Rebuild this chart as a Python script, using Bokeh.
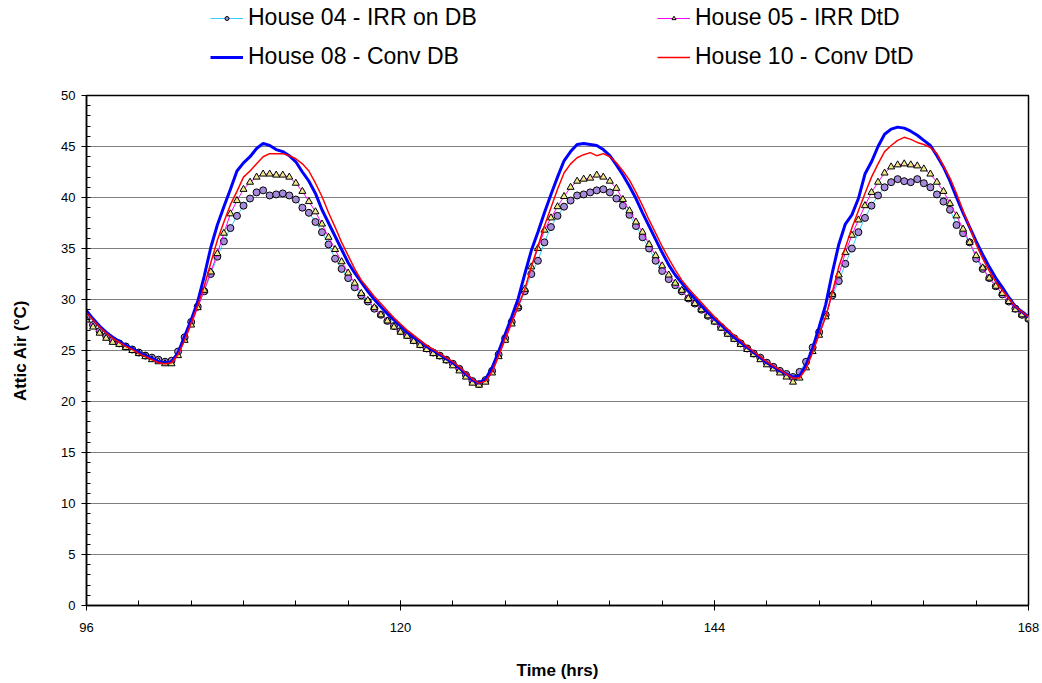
from bokeh.plotting import figure
from bokeh.layouts import column
from bokeh.models import FixedTicker, Legend, LegendItem, Range1d
from bokeh.embed import file_html
from bokeh.resources import INLINE

# time axis: half-hourly readings from hour 96 to hour 168
hours = [96 + 0.5 * i for i in range(145)]

house04_irr_db = [
    28.2, 27.5, 26.9, 26.4, 26.0, 25.7, 25.4, 25.1, 24.8, 24.5, 24.3, 24.1,
    23.9, 24.0, 24.9, 26.3, 27.8, 29.3, 30.8, 32.5, 34.2, 35.7, 37.0, 38.2,
    39.2, 39.9, 40.5, 40.7, 40.2, 40.3, 40.4, 40.2, 39.8, 39.0, 38.5, 37.6,
    36.6, 35.4, 34.0, 33.0, 32.1, 31.2, 30.4, 29.8, 29.1, 28.5, 27.9, 27.4,
    26.9, 26.5, 26.0, 25.6, 25.2, 24.8, 24.5, 24.1, 23.7, 23.2, 22.6, 22.0,
    21.7, 22.1, 23.0, 24.6, 26.2, 27.8, 29.2, 30.8, 32.5, 33.8, 35.6, 37.1,
    38.2, 39.1, 39.7, 40.2, 40.3, 40.5, 40.7, 40.8, 40.5, 39.9, 39.2, 38.3,
    37.2, 36.1, 35.0, 33.8, 32.8, 32.0, 31.4, 30.8, 30.1, 29.6, 29.0, 28.4,
    27.9, 27.3, 26.7, 26.2, 25.7, 25.2, 24.7, 24.3, 23.8, 23.4, 23.0, 22.7,
    22.4, 22.9, 23.9, 25.3, 26.8, 28.5, 30.4, 31.8, 33.5, 35.0, 36.6, 38.0,
    39.2, 40.2, 41.0, 41.5, 41.8, 41.6, 41.5, 41.8, 41.4, 41.0, 40.3, 39.6,
    38.8, 37.3, 36.5, 35.6, 34.0, 33.0, 32.1, 31.3, 30.5, 29.8, 29.1, 28.5,
    28.1,
]

house05_irr_dtd = [
    28.0, 27.3, 26.7, 26.2, 25.8, 25.6, 25.3, 25.0, 24.7, 24.4, 24.1, 23.9,
    23.7, 23.7, 24.5, 26.0, 27.5, 29.2, 30.9, 32.7, 34.5, 36.5, 38.4, 39.7,
    40.8, 41.5, 42.0, 42.3, 42.3, 42.2, 42.2, 42.0, 41.4, 40.6, 39.6, 38.6,
    37.4, 36.1, 34.9, 33.7, 32.6, 31.6, 30.6, 29.9, 29.2, 28.5, 27.9, 27.3,
    26.8, 26.4, 25.9, 25.5, 25.1, 24.7, 24.4, 24.0, 23.5, 23.0, 22.4, 21.8,
    21.6, 21.9, 22.8, 24.4, 26.0, 27.6, 29.3, 31.0, 33.2, 35.0, 36.8, 38.0,
    39.1, 40.1, 41.0, 41.6, 41.8, 41.9, 42.2, 42.0, 41.6, 40.9, 39.8, 38.7,
    37.6, 36.6, 35.4, 34.3, 33.3, 32.4, 31.6, 30.9, 30.1, 29.6, 29.0, 28.4,
    27.8, 27.2, 26.6, 26.1, 25.6, 25.1, 24.6, 24.1, 23.6, 23.2, 22.8, 22.4,
    21.9, 22.3, 23.3, 24.9, 26.5, 28.3, 30.5, 32.4, 34.6, 36.3, 37.8, 39.2,
    40.5, 41.5, 42.4, 43.0, 43.2, 43.3, 43.2, 43.1, 42.8, 42.3, 41.5, 40.6,
    39.4, 38.2, 36.9, 35.6, 34.3, 33.1, 32.1, 31.3, 30.6, 29.8, 29.0, 28.5,
    28.1,
]

house08_conv_db = [
    28.9, 28.1, 27.4, 26.8, 26.3, 25.9, 25.5, 25.2, 24.8, 24.5, 24.2, 23.9,
    23.8, 23.9, 24.8, 26.4, 28.0, 29.8, 32.3, 35.1, 37.3, 39.1, 40.8, 42.6,
    43.4, 44.0, 44.8, 45.3, 45.1, 44.7, 44.5, 44.1, 43.5, 42.5, 41.6, 40.4,
    38.8, 37.5, 36.2, 34.9, 33.6, 32.6, 31.7, 30.8, 30.0, 29.3, 28.6, 28.0,
    27.4, 26.8, 26.3, 25.9, 25.4, 25.0, 24.6, 24.2, 23.8, 23.3, 22.7, 22.1,
    21.8, 22.2, 23.3, 24.9, 26.6, 28.3, 30.1, 32.5, 34.8, 36.6, 38.5, 40.3,
    42.0, 43.6, 44.5, 45.2, 45.3, 45.2, 45.1, 44.7, 44.1, 43.2, 42.2, 41.1,
    39.9, 38.5, 37.2, 35.9, 34.6, 33.4, 32.4, 31.6, 30.8, 30.1, 29.4, 28.7,
    28.1, 27.5, 26.9, 26.3, 25.8, 25.3, 24.8, 24.3, 23.8, 23.4, 23.0, 22.7,
    22.4, 22.5, 23.6, 25.2, 27.3, 29.5, 32.6, 35.4, 37.4, 38.3, 39.9, 42.3,
    43.5, 45.0, 46.2, 46.7, 46.9, 46.8, 46.5, 46.1, 45.6, 45.1, 44.1, 43.0,
    41.6, 40.0, 38.5, 37.1, 35.7, 34.4, 33.2, 32.1, 31.2, 30.2, 29.3, 28.8,
    28.3,
]

house10_conv_dtd = [
    28.7, 28.0, 27.3, 26.7, 26.2, 25.8, 25.4, 25.1, 24.7, 24.4, 24.1, 23.8,
    23.7, 23.8, 24.6, 26.0, 27.7, 29.4, 31.3, 33.6, 35.8, 37.6, 39.3, 40.6,
    42.0, 42.6, 43.3, 44.0, 44.3, 44.3, 44.3, 44.1, 43.8, 43.3, 42.6, 41.4,
    40.1, 38.5, 37.1, 35.6, 34.3, 33.0, 31.9, 31.1, 30.3, 29.6, 28.9, 28.2,
    27.6, 27.0, 26.5, 26.0, 25.5, 25.1, 24.7, 24.3, 23.9, 23.4, 22.8, 22.2,
    21.8, 22.0, 22.9, 24.5, 26.2, 27.8, 29.4, 31.0, 33.2, 35.2, 37.2, 39.0,
    40.8, 42.4, 43.3, 43.9, 44.2, 44.4, 44.1, 44.3, 44.0, 43.4, 42.6, 41.7,
    40.5, 39.2, 37.8, 36.5, 35.2, 34.0, 32.9, 31.9, 31.1, 30.4, 29.7, 29.0,
    28.3, 27.7, 27.1, 26.5, 26.0, 25.4, 24.9, 24.4, 23.9, 23.5, 23.1, 22.7,
    22.3, 22.3, 23.2, 24.8, 26.6, 28.3, 30.7, 33.2, 35.1, 37.0, 38.7, 40.4,
    42.0, 43.3, 44.5, 45.1, 45.6, 45.9, 45.7, 45.4, 45.2, 44.9, 44.3, 43.1,
    41.9, 40.4, 38.7, 37.1, 35.4, 34.0, 32.8, 31.7, 30.9, 30.1, 29.3, 28.8,
    28.3,
]

series_labels = ["House 04 - IRR on DB", "House 05 - IRR DtD",
                 "House 08 - Conv DB", "House 10 - Conv DtD"]
x_major = [96, 120, 144, 168]
x_minor = list(range(96, 169, 4))
y_major = list(range(0, 51, 5))
y_minor = list(range(0, 51, 1))

FONT = "Liberation Sans"

styles = [
    dict(line_color="#33CCFF", line_width=1, marker="circle", fill="#A68BDB"),
    dict(line_color="#FF00FF", line_width=1, marker="triangle", fill="#EEE98A"),
    dict(line_color="#0000FF", line_width=3, marker=None, fill=None),
    dict(line_color="#FF0000", line_width=1.5, marker=None, fill=None),
]
values = [house04_irr_db, house05_irr_dtd, house08_conv_db, house10_conv_dtd]

# ---------------- main chart ----------------
p = figure(width=1042, height=603, output_backend="svg", toolbar_location=None,
           x_range=Range1d(96, 168), y_range=Range1d(0, 50),
           min_border_left=86, min_border_right=14,
           min_border_top=15, min_border_bottom=78)
p.background_fill_color = "white"
p.border_fill_color = "white"
p.outline_line_color = "black"
p.outline_line_width = 1.5

for ys, st in zip(values, styles):
    p.line(hours, ys, line_color=st["line_color"], line_width=st["line_width"])
    if st["marker"]:
        p.scatter(hours, ys, marker=st["marker"], size=7,
                  fill_color=st["fill"], line_color="black", line_width=1)

p.xaxis.ticker = FixedTicker(ticks=x_major, minor_ticks=x_minor)
p.yaxis.ticker = FixedTicker(ticks=y_major, minor_ticks=y_minor)
p.xgrid.visible = False
p.ygrid.grid_line_color = "#7F7F7F"
p.ygrid.grid_line_width = 1

for ax in (p.xaxis, p.yaxis):
    ax.axis_line_color = "black"
    ax.axis_line_width = 1.5
    ax.major_tick_line_color = "black"
    ax.minor_tick_line_color = "black"
    ax.major_label_text_font = FONT
    ax.major_label_text_font_size = "13px"
    ax.major_label_text_color = "black"
    ax.axis_label_text_font = FONT
    ax.axis_label_text_font_size = "17px"
    ax.axis_label_text_font_style = "bold"
    ax.axis_label_text_color = "black"

p.xaxis.major_tick_in = 5
p.xaxis.major_tick_out = 5
p.xaxis.minor_tick_in = 5
p.xaxis.minor_tick_out = 0
p.xaxis.major_label_standoff = 12
p.xaxis.axis_label = "Time (hrs)"
p.xaxis.axis_label_standoff = 26

p.yaxis.major_tick_in = 0
p.yaxis.major_tick_out = 5
p.yaxis.minor_tick_in = 4
p.yaxis.minor_tick_out = 0
p.yaxis.major_label_standoff = 6
p.yaxis.axis_label = "Attic Air (°C)"
p.yaxis.axis_label_standoff = 28

# ---------------- legend strip ----------------
# the series are drawn here too, but outside this strip's ranges, so only
# their legend samples show
lg = figure(width=1042, height=80, output_backend="svg", toolbar_location=None,
            x_axis_type=None, y_axis_type=None,
            x_range=Range1d(0, 1), y_range=Range1d(0, 1),
            min_border_left=0, min_border_right=0,
            min_border_top=0, min_border_bottom=0)
lg.outline_line_color = None
lg.grid.visible = False
lg.background_fill_color = "white"
lg.border_fill_color = "white"

items = []
for label, ys, st in zip(series_labels, values, styles):
    rs = [lg.line(hours, ys, line_color=st["line_color"], line_width=st["line_width"])]
    if st["marker"]:
        rs.append(lg.scatter(hours, ys, marker=st["marker"], size=4,
                             fill_color=st["fill"], line_color="black", line_width=1))
    items.append(LegendItem(label=label, renderers=rs))

legend = Legend(items=items, location=(124, 10), orientation="horizontal", ncols=2)
legend.border_line_color = None
legend.background_fill_alpha = 0
legend.padding = 0
legend.margin = 0
legend.glyph_width = 33
legend.glyph_height = 10
legend.label_height = 26
legend.label_standoff = 5
legend.label_width = 397
legend.spacing = 12
legend.label_text_font = FONT
legend.label_text_font_size = "23px"
legend.label_text_color = "black"
lg.add_layout(legend, "center")

layout = column(lg, p, spacing=0)
open("out.html", "w").write(file_html(layout, INLINE))
